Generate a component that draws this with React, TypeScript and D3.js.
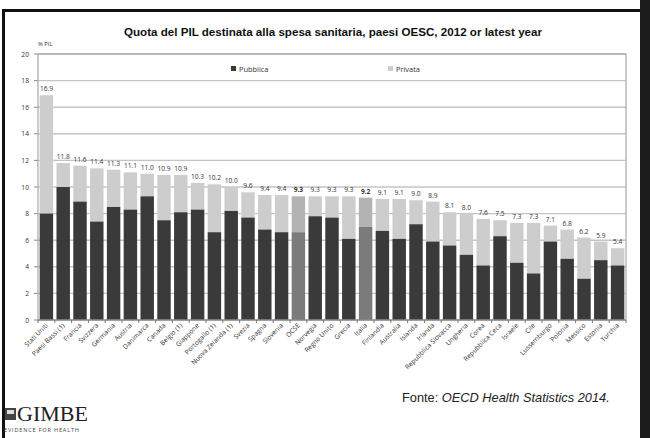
import React from "react";
import * as d3 from "d3";

const countries = [
  "Stati Uniti", "Paesi Bassi (1)", "Francia", "Svizzera", "Germania", "Austria", "Danimarca",
  "Canada", "Belgio (1)", "Giappone", "Portogallo (1)", "Nuova Zelanda (1)", "Svezia", "Spagna",
  "Slovenia", "OCSE", "Norvegia", "Regno Unito", "Grecia", "Italia", "Finlandia", "Australia",
  "Islanda", "Irlanda", "Repubblica Slovacca", "Ungheria", "Corea", "Repubblica Ceca", "Israele",
  "Cile", "Lussemburgo", "Polonia", "Messico", "Estonia", "Turchia",
];
const totals = [
  16.9, 11.8, 11.6, 11.4, 11.3, 11.1, 11.0, 10.9, 10.9, 10.3, 10.2, 10.0, 9.6, 9.4, 9.4, 9.3,
  9.3, 9.3, 9.3, 9.2, 9.1, 9.1, 9.0, 8.9, 8.1, 8.0, 7.6, 7.5, 7.3, 7.3, 7.1, 6.8, 6.2, 5.9, 5.4,
];
const pubblica = [
  8.0, 10.0, 8.9, 7.4, 8.5, 8.3, 9.3, 7.5, 8.1, 8.3, 6.6, 8.2, 7.7, 6.8, 6.6, 6.6,
  7.8, 7.7, 6.1, 7.0, 6.7, 6.1, 7.2, 5.9, 5.6, 4.9, 4.1, 6.3, 4.3, 3.5, 5.9, 4.6, 3.1, 4.5, 4.1,
];
const highlighted = ["OCSE", "Italia"];
const yTicks = [0, 2, 4, 6, 8, 10, 12, 14, 16, 18, 20];
const legendLabels = ["Pubblica", "Privata"];
const titleText = "Quota del PIL destinata alla spesa sanitaria, paesi OESC, 2012 or latest year";

export default function App() {
  const W = 650, H = 438;
  const left = 38, right = 626, top = 54, bottom = 320;
  const x = d3.scaleBand<string>().domain(countries).range([left, right]).paddingInner(0.2).paddingOuter(0.1);
  const y = d3.scaleLinear().domain([0, 20]).range([bottom, top]);
  const font = "'Open Sans', 'Liberation Sans', Arial, sans-serif";
  const arial = "'Liberation Sans', Arial, sans-serif";
  const step = x.step();
  const firstEdge = x(countries[0])! - step * x.paddingInner() / 2;

  return (
    <svg width={W} height={H} style={{ position: "absolute", left: 0, top: 0, background: "#fff" }}>
      {/* frame */}
      <rect x={0} y={0} width={W} height={H} fill="#fff" />
      <rect x={2} y={9} width={3} height={H - 9} fill="#111" />
      <rect x={2} y={9} width={640} height={3} fill="#111" />
      <rect x={640} y={0} width={10} height={H} fill="#1c1c1c" />

      <text x={333} y={36} textAnchor="middle" fontFamily={arial} fontWeight="bold" fontSize={11.6} fill="#111">
        {titleText}
      </text>
      <text x={38} y={46} fontFamily={font} fontSize={5.8} fill="#333">% PIL</text>

      {/* gridlines */}
      {yTicks.map((t) => (
        <g key={t}>
          {t > 0 && (
            <line x1={left} x2={right} y1={y(t)} y2={y(t)} stroke="#c4c4c4" strokeWidth={1.4} />
          )}
          <line x1={left - 4} x2={left} y1={y(t)} y2={y(t)} stroke="#888" strokeWidth={1} />
          <text x={29} y={y(t) + 2.5} textAnchor="end" fontFamily={font} fontSize={6.7} fill="#333">
            {t}
          </text>
        </g>
      ))}

      {/* legend */}
      <rect x={231} y={66} width={5} height={5} fill="#3a3a3a" />
      <text x={239} y={71.5} fontFamily={font} fontSize={7.4} fill="#333">{legendLabels[0]}</text>
      <rect x={388} y={66} width={5} height={5} fill="#cdcdcd" />
      <text x={396} y={71.5} fontFamily={font} fontSize={7.4} fill="#333">{legendLabels[1]}</text>

      {/* bars */}
      {countries.map((c, i) => {
        const hi = highlighted.includes(c);
        const bx = x(c)!;
        const bw = x.bandwidth();
        return (
          <g key={c}>
            <rect x={bx} y={y(totals[i])} width={bw} height={y(pubblica[i]) - y(totals[i])}
              fill={hi ? "#b3b3b3" : "#cdcdcd"} />
            <rect x={bx} y={y(pubblica[i])} width={bw} height={bottom - y(pubblica[i])}
              fill={hi ? "#7b7b7b" : "#3a3a3a"} />
            <text x={bx + bw / 2} y={y(totals[i]) - 4} textAnchor="middle" fontFamily={font}
              fontSize={6.6} fontWeight={hi ? "bold" : "normal"} fill="#333">
              {totals[i].toFixed(1)}
            </text>
            <text transform={`translate(${bx + bw / 2 + 2},${bottom + 6}) rotate(-45)`} textAnchor="end"
              fontFamily={font} fontSize={6.6} fill="#333">
              {c}
            </text>
          </g>
        );
      })}

      {/* plot frame */}
      <rect x={left} y={top} width={right - left} height={bottom - top} fill="none" stroke="#a8a8a8" strokeWidth={1.2} />
      <line x1={left} x2={right} y1={bottom} y2={bottom} stroke="#777" strokeWidth={1.2} />
      {d3.range(countries.length + 1).map((i) => {
        const xx = firstEdge + i * step;
        return <line key={"tk" + i} x1={xx} x2={xx} y1={bottom} y2={bottom + 3} stroke="#777" strokeWidth={1} />;
      })}

      {/* footer */}
      <text x={402} y={402} fontFamily={arial} fontSize={12.8} fill="#222">
        Fonte: <tspan fontStyle="italic">OECD Health Statistics 2014.</tspan>
      </text>
      <g>
        <rect x={5} y={408} width={11} height={12} fill="#444" />
        <rect x={7} y={410} width={7} height={4} fill="#ddd" />
        <text x={17} y={421} fontFamily="'Liberation Serif', 'DejaVu Serif', serif" fontSize={22} fill="#222">GIMBE</text>
        <text x={4} y={432} fontFamily={font} fontSize={5.6} letterSpacing={0.8} fill="#444">EVIDENCE FOR HEALTH</text>
      </g>
    </svg>
  );
}
